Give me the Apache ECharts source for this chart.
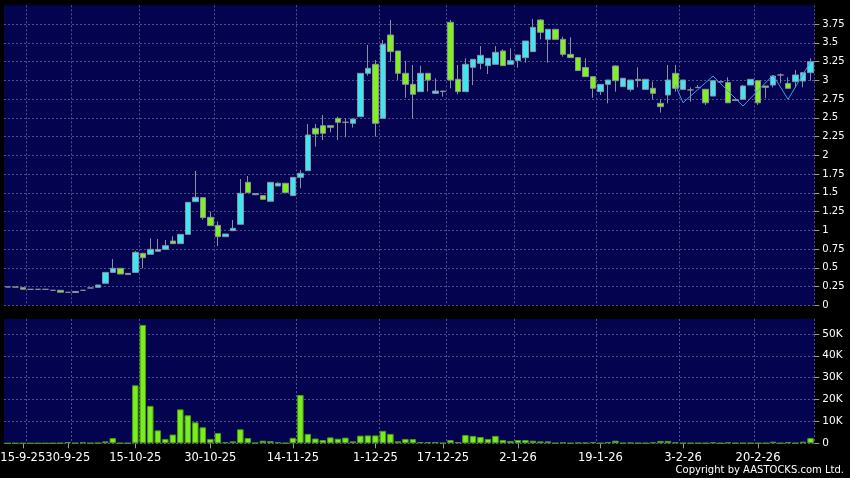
<!DOCTYPE html>
<html>
<head>
<meta charset="utf-8">
<title>AASTOCKS daily chart</title>
<script src="https://cdn.jsdelivr.net/npm/echarts@6.0.0/dist/echarts.min.js"></script>
<style>
  html, body { margin: 0; padding: 0; background: #000; }
  #main { width: 850px; height: 478px; }
</style>
</head>
<body>
<div id="main"></div>
<script>
// one row per trading day: [open, close, low, high]
const ohlc = [
  [0.245, 0.245, 0.245, 0.245], [0.243, 0.243, 0.243, 0.243], [0.235, 0.215, 0.213, 0.235], [0.213, 0.213, 0.213, 0.213],
  [0.213, 0.213, 0.213, 0.213], [0.213, 0.213, 0.213, 0.213], [0.2, 0.2, 0.2, 0.2], [0.2, 0.175, 0.173, 0.2],
  [0.173, 0.173, 0.173, 0.173], [0.17, 0.185, 0.169, 0.187], [0.2, 0.2, 0.2, 0.2], [0.231, 0.231, 0.231, 0.231],
  [0.24, 0.271, 0.24, 0.271], [0.293, 0.439, 0.293, 0.44], [0.439, 0.493, 0.439, 0.617], [0.493, 0.417, 0.417, 0.493],
  [0.426, 0.41, 0.408, 0.426], [0.439, 0.706, 0.43, 0.726], [0.693, 0.635, 0.493, 0.70], [0.68, 0.746, 0.68, 0.893],
  [0.72, 0.745, 0.715, 0.884], [0.746, 0.795, 0.746, 0.871], [0.857, 0.822, 0.822, 0.92], [0.822, 0.946, 0.822, 0.946],
  [0.946, 1.373, 0.946, 1.373], [1.382, 1.44, 1.382, 1.791], [1.435, 1.169, 1.142, 1.44], [1.173, 1.062, 1.062, 1.249],
  [1.066, 0.915, 0.79, 1.118], [0.915, 0.951, 0.915, 0.951], [0.995, 1.026, 0.995, 1.138], [1.08, 1.493, 1.08, 1.684],
  [1.64, 1.502, 1.502, 1.724], [1.475, 1.49, 1.47, 1.495], [1.462, 1.413, 1.41, 1.462], [1.387, 1.64, 1.387, 1.64],
  [1.591, 1.627, 1.591, 1.64], [1.627, 1.502, 1.502, 1.627], [1.462, 1.706, 1.462, 1.706], [1.706, 1.76, 1.56, 1.804],
  [1.795, 2.271, 1.795, 2.417], [2.359, 2.284, 2.115, 2.417], [2.395, 2.293, 2.204, 2.537], [2.395, 2.373, 2.306, 2.395],
  [2.493, 2.44, 2.204, 2.515], [2.44, 2.44, 2.24, 2.493], [2.426, 2.484, 2.37, 2.484], [2.515, 3.093, 2.515, 3.093],
  [3.093, 3.16, 3.062, 3.471], [3.213, 2.426, 2.249, 3.271], [2.493, 3.48, 2.493, 3.537], [3.604, 3.382, 3.249, 3.804],
  [3.391, 3.093, 3.004, 3.391], [3.093, 2.946, 2.768, 3.258], [2.946, 2.813, 2.493, 3.204], [2.849, 3.093, 2.849, 3.195],
  [3.093, 3.004, 2.85, 3.093], [2.826, 2.857, 2.826, 3.027], [2.857, 2.85, 2.782, 2.857], [3.773, 3.004, 2.893, 3.804],
  [3.013, 2.849, 2.813, 3.204], [2.849, 3.213, 2.849, 3.293], [3.173, 3.28, 2.937, 3.28], [3.226, 3.333, 3.146, 3.457],
  [3.195, 3.293, 3.084, 3.293], [3.213, 3.373, 3.213, 3.457], [3.391, 3.195, 3.195, 3.413], [3.213, 3.262, 3.213, 3.426],
  [3.262, 3.337, 3.169, 3.337], [3.302, 3.524, 3.235, 3.524], [3.382, 3.706, 3.382, 3.817], [3.804, 3.64, 3.546, 3.817],
  [3.546, 3.68, 3.235, 3.68], [3.68, 3.546, 3.546, 3.68], [3.546, 3.346, 3.315, 3.582], [3.346, 3.302, 3.302, 3.573],
  [3.302, 3.13, 3.13, 3.302], [3.17, 3.049, 3.049, 3.293], [3.049, 2.893, 2.768, 3.049], [2.849, 2.946, 2.804, 2.946],
  [2.946, 3.004, 2.693, 3.004], [3.191, 2.995, 2.849, 3.2], [2.915, 3.027, 2.915, 3.027], [2.879, 3.004, 2.849, 3.004],
  [2.995, 3.013, 2.906, 3.173], [2.879, 3.013, 2.879, 3.013], [2.893, 2.826, 2.747, 2.982], [2.693, 2.649, 2.569, 2.747],
  [2.804, 3.004, 2.693, 3.204], [3.093, 2.893, 2.849, 3.204], [2.879, 3.004, 2.879, 3.004], [2.871, 2.871, 2.715, 2.906],
  [2.906, 2.902, 2.902, 2.937], [2.88, 2.70, 2.671, 2.88], [2.79, 2.995, 2.79, 2.995], [2.98, 2.98, 2.98, 2.98],
  [2.969, 2.70, 2.70, 3.04], [2.74, 2.73, 2.73, 2.747], [2.746, 2.924, 2.746, 2.937], [2.937, 3.013, 2.937, 3.013],
  [2.995, 2.70, 2.671, 2.995], [2.924, 2.906, 2.76, 2.924], [2.937, 3.057, 2.906, 3.057], [3.071, 3.071, 2.96, 3.093],
  [2.959, 2.893, 2.893, 3.04], [2.982, 3.071, 2.906, 3.138], [2.99, 3.102, 2.906, 3.102], [3.102, 3.249, 2.995, 3.293]
];

// shares traded per day
const volume = [
  0, 0, 0, 0, 0, 0, 0, 100, 600, 100, 450, 100,
  200, 900, 2400, 100, 100, 26500, 54100, 17100, 5900, 2000, 4000, 15500,
  12800, 9600, 7300, 2000, 4700, 500, 900, 6400, 2400, 200, 1200, 1000,
  500, 100, 2500, 22100, 4300, 2200, 1500, 2700, 2100, 2600, 900, 3500,
  3600, 3600, 5700, 4300, 900, 2000, 1900, 600, 600, 600, 150, 1500,
  600, 3800, 3400, 2900, 2000, 3400, 1500, 1100, 1500, 1500, 1200, 900,
  900, 100, 450, 100, 300, 300, 600, 100, 600, 1200, 100, 300,
  150, 100, 450, 1100, 1100, 450, 100, 100, 100, 100, 450, 50,
  450, 100, 100, 100, 100, 100, 750, 100, 600, 100, 750, 2400
];

// thin blue zigzag drawn over the last weeks: [day index, price]
const zigzag = [[89, 2.937], [90, 2.70], [94, 3.057], [98, 2.657], [102, 3.07], [104, 2.746], [107, 3.248]];

const tickLabels = {
  2: '15-9-25', 8: '30-9-25', 17: '15-10-25', 27: '30-10-25', 38: '14-11-25', 49: '1-12-25',
  58: '17-12-25', 68: '2-1-26', 79: '19-1-26', 90: '3-2-26', 100: '20-2-26'
};
const gridLineDays = [3, 9, 18, 28, 39, 50, 59, 68, 79, 90, 100];

const days = ohlc.map((_, i) => String(i));

const navy = '#03034f';
const dash = { color: '#50508a', type: [2, 2], width: 1 };
const textFont = 'DejaVu Sans';

function xAxisFor(gridIndex, withLabels) {
  return {
    type: 'category',
    gridIndex: gridIndex,
    data: days,
    boundaryGap: true,
    axisLine: { show: false },
    axisTick: {
      show: withLabels,
      alignWithLabel: true,
      length: 5,
      lineStyle: { color: '#9a9a9a' },
      interval: (i) => tickLabels[i] !== undefined
    },
    axisLabel: {
      show: withLabels,
      interval: (i) => tickLabels[i] !== undefined,
      formatter: (v, i) => tickLabels[i] || '',
      hideOverlap: false,
      color: '#ffffff',
      fontFamily: textFont,
      fontSize: 11.5,
      margin: 9
    },
    splitLine: {
      show: true,
      interval: (i) => gridLineDays.includes(i),
      lineStyle: dash
    }
  };
}

const chart = echarts.init(document.getElementById('main'));
chart.setOption({
  animation: false,
  backgroundColor: '#000000',
  grid: [
    { left: 4, right: 35.7, top: 5.3, height: 300, outerBoundsMode: 'none', show: true, backgroundColor: navy, borderWidth: 0 },
    { left: 4, right: 35.7, top: 319, height: 124.3, outerBoundsMode: 'none', show: true, backgroundColor: navy, borderWidth: 0 }
  ],
  xAxis: [xAxisFor(0, false), xAxisFor(1, true)],
  yAxis: [
    {
      type: 'value',
      gridIndex: 0,
      position: 'right',
      min: 0,
      max: 4,
      interval: 0.25,
      axisLine: { show: false },
      axisTick: { show: true, length: 5, lineStyle: { color: '#9a9a9a' } },
      axisLabel: { color: '#ffffff', fontFamily: textFont, fontSize: 10, margin: 8, showMaxLabel: false },
      splitLine: { show: true, showMaxLine: false, lineStyle: dash }
    },
    {
      type: 'value',
      gridIndex: 1,
      position: 'right',
      min: 0,
      max: 56800,
      interval: 10000,
      axisLine: { show: false },
      axisTick: { show: true, length: 5, lineStyle: { color: '#9a9a9a' } },
      axisLabel: {
        color: '#ffffff', fontFamily: textFont, fontSize: 10.5, margin: 8, showMaxLabel: false,
        formatter: (v) => (v === 0 ? '0' : v / 1000 + 'K')
      },
      splitLine: { show: true, showMaxLine: false, lineStyle: dash }
    }
  ],
  series: [
    {
      type: 'candlestick',
      xAxisIndex: 0,
      yAxisIndex: 0,
      barWidth: 6,
      data: ohlc,
      itemStyle: {
        color: '#3ee6f4',
        color0: '#80f020',
        borderColor: '#8c8f9c',
        borderColor0: '#8c8f9c',
        borderWidth: 1
      }
    },
    {
      type: 'line',
      xAxisIndex: 0,
      yAxisIndex: 0,
      data: zigzag,
      showSymbol: false,
      symbol: 'none',
      lineStyle: { color: '#3d9be9', width: 1 }
    },
    {
      type: 'bar',
      xAxisIndex: 1,
      yAxisIndex: 1,
      barWidth: 6.5,
      data: volume,
      itemStyle: { color: '#7aee1c', borderColor: '#4c9a14', borderWidth: 1 }
    }
  ],
  graphic: [
    {
      type: 'text',
      right: 6,
      top: 465,
      style: {
        text: 'Copyright by AASTOCKS.com Ltd.',
        fill: '#ffffff',
        font: '10px "DejaVu Sans"'
      }
    }
  ]
});
</script>
</body>
</html>
